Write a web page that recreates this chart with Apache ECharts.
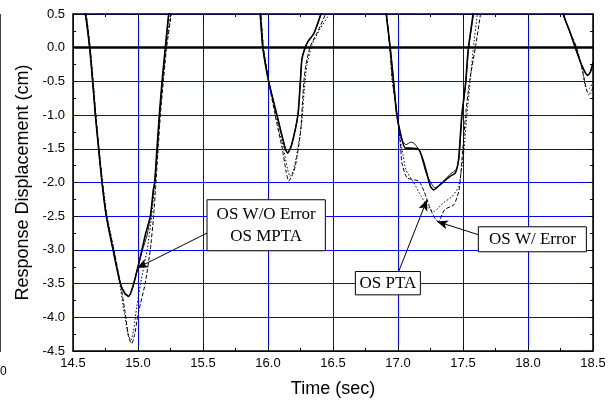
<!DOCTYPE html>
<html><head><meta charset="utf-8">
<script src="https://cdn.jsdelivr.net/npm/echarts@6/dist/echarts.min.js"></script>
<style>html,body{margin:0;padding:0;background:#fff}#c{width:615px;height:404px}</style>
</head><body><div id="c"></div>
<script>
// Axis settings
const xTicks = [14.5, 15.0, 15.5, 16.0, 16.5, 17.0, 17.5, 18.0, 18.5];
const yTicks = [0.5, 0.0, -0.5, -1.0, -1.5, -2.0, -2.5, -3.0, -3.5, -4.0, -4.5];

// OS W/O Error (solid) [time, displacement]
const osWithoutError = [[14.50,1.40],[14.595,0.50],[14.628,0.0],[14.651,-0.5],[14.672,-1.0],[14.697,-1.5],[14.723,-2.0],[14.756,-2.5],[14.808,-3.0],[14.864,-3.5],[14.90,-3.65],[14.928,-3.69],[14.96,-3.55],[15.0,-3.25],[15.03,-3.0],[15.06,-2.75],[15.095,-2.5],[15.118,-2.11],[15.128,-2.0],[15.146,-1.5],[15.164,-1.0],[15.185,-0.5],[15.21,0.0],[15.236,0.5],[15.30,1.4],[15.6,2.2],[15.90,1.3],[15.94,0.5],[15.96,0.0],[16.005,-0.5],[16.069,-1.0],[16.133,-1.5],[16.15,-1.56],[16.18,-1.45],[16.23,-1.0],[16.25,-0.47],[16.26,-0.18],[16.28,-0.03],[16.31,0.10],[16.35,0.20],[16.375,0.32],[16.405,0.49],[16.45,0.8],[16.65,1.6],[16.88,1.0],[16.91,0.49],[16.94,0.0],[16.966,-0.5],[16.99,-0.99],[17.03,-1.36],[17.056,-1.49],[17.09,-1.49],[17.16,-1.51],[17.20,-1.71],[17.25,-2.06],[17.275,-2.11],[17.325,-2.03],[17.40,-1.91],[17.44,-1.86],[17.466,-1.66],[17.49,-1.02],[17.52,-0.52],[17.54,-0.03],[17.577,0.49],[17.62,1.1],[17.95,1.8],[18.25,0.9],[18.274,0.49],[18.325,0.22],[18.364,0.0],[18.415,-0.27],[18.459,-0.41],[18.48,-0.36],[18.5,-0.22]];

// OS MPTA (thin solid)
const osMPTA = [[14.50,1.40],[14.595,0.50],[14.628,0.0],[14.651,-0.5],[14.672,-1.0],[14.697,-1.5],[14.723,-2.0],[14.756,-2.5],[14.808,-3.0],[14.864,-3.5],[14.90,-3.64],[14.93,-3.68],[14.96,-3.54],[15.0,-3.25],[15.035,-3.0],[15.07,-2.78],[15.10,-2.45],[15.12,-2.1],[15.13,-2.0],[15.148,-1.5],[15.166,-1.0],[15.187,-0.5],[15.212,0.0],[15.238,0.5],[15.30,1.4],[15.6,2.2],[15.90,1.3],[15.94,0.5],[15.96,0.0],[16.005,-0.5],[16.069,-1.0],[16.133,-1.5],[16.152,-1.57],[16.18,-1.46],[16.23,-1.0],[16.25,-0.47],[16.26,-0.18],[16.28,-0.03],[16.31,0.10],[16.35,0.20],[16.375,0.32],[16.405,0.49],[16.45,0.8],[16.65,1.6],[16.88,1.0],[16.91,0.49],[16.94,0.0],[16.966,-0.5],[16.99,-0.99],[17.03,-1.36],[17.06,-1.44],[17.10,-1.40],[17.13,-1.43],[17.17,-1.55],[17.22,-1.88],[17.285,-2.08],[17.33,-2.02],[17.40,-1.88],[17.45,-1.80],[17.47,-1.62],[17.492,-1.02],[17.522,-0.52],[17.542,-0.03],[17.58,0.49],[17.62,1.1],[17.95,1.8],[18.25,0.9],[18.274,0.49],[18.325,0.22],[18.364,0.0],[18.415,-0.27],[18.459,-0.41],[18.48,-0.36],[18.5,-0.22]];

// OS W/ Error (dashed)
const osWithError = [[14.50,1.40],[14.60,0.50],[14.632,0.0],[14.655,-0.5],[14.676,-1.0],[14.70,-1.5],[14.727,-2.0],[14.76,-2.5],[14.815,-3.0],[14.865,-3.5],[14.902,-3.94],[14.928,-4.30],[14.952,-4.39],[14.975,-4.25],[15.0,-3.96],[15.056,-3.49],[15.095,-2.99],[15.12,-2.5],[15.138,-2.0],[15.155,-1.5],[15.172,-1.0],[15.195,-0.5],[15.22,0.0],[15.256,0.5],[15.32,1.4],[15.6,2.2],[15.90,1.3],[15.945,0.5],[15.965,0.0],[16.005,-0.5],[16.055,-1.0],[16.11,-1.5],[16.14,-1.85],[16.16,-1.98],[16.185,-1.9],[16.21,-1.76],[16.25,-1.26],[16.275,-0.52],[16.29,-0.27],[16.325,0.02],[16.377,0.22],[16.44,0.49],[16.5,0.9],[16.7,1.6],[16.88,1.0],[16.912,0.5],[16.937,0.0],[16.957,-0.5],[16.995,-1.0],[17.02,-1.46],[17.03,-1.71],[17.07,-1.93],[17.16,-1.98],[17.2,-2.13],[17.25,-2.40],[17.29,-2.55],[17.31,-2.58],[17.36,-2.40],[17.43,-2.33],[17.47,-2.11],[17.49,-1.71],[17.52,-1.0],[17.55,-0.5],[17.595,0.0],[17.634,0.49],[17.68,1.1],[17.95,1.8],[18.24,0.9],[18.27,0.49],[18.33,0.2],[18.375,0.0],[18.42,-0.35],[18.466,-0.70],[18.485,-0.66],[18.5,-0.58]];

// OS PTA (dotted)
const osPTA = [[14.50,1.40],[14.60,0.50],[14.632,0.0],[14.655,-0.5],[14.676,-1.0],[14.70,-1.5],[14.727,-2.0],[14.762,-2.5],[14.815,-3.0],[14.86,-3.5],[14.895,-3.95],[14.925,-4.25],[14.945,-4.34],[14.965,-4.2],[14.99,-3.85],[15.02,-3.5],[15.07,-3.0],[15.105,-2.5],[15.13,-2.0],[15.15,-1.5],[15.168,-1.0],[15.19,-0.5],[15.215,0.0],[15.25,0.5],[15.32,1.4],[15.6,2.2],[15.90,1.3],[15.945,0.5],[15.965,0.0],[16.008,-0.5],[16.06,-1.0],[16.12,-1.5],[16.15,-1.8],[16.17,-1.91],[16.195,-1.82],[16.22,-1.6],[16.26,-1.1],[16.28,-0.6],[16.30,-0.25],[16.34,0.05],[16.40,0.28],[16.466,0.49],[16.52,0.9],[16.7,1.6],[16.88,1.0],[16.912,0.5],[16.937,0.0],[16.957,-0.5],[16.995,-1.0],[17.02,-1.4],[17.04,-1.6],[17.06,-1.81],[17.12,-2.0],[17.18,-2.21],[17.235,-2.38],[17.275,-2.43],[17.35,-2.30],[17.415,-2.21],[17.466,-2.06],[17.505,-1.56],[17.53,-1.0],[17.555,-0.5],[17.58,0.0],[17.61,0.49],[17.66,1.1],[17.95,1.8],[18.25,0.9],[18.275,0.49],[18.33,0.2],[18.37,0.0],[18.415,-0.3],[18.45,-0.62],[18.475,-0.6],[18.5,-0.5]];

// Annotation boxes (data coords of corners) and arrows (from -> to)
const boxTexts = ['OS W/O Error\nOS MPTA', 'OS W/ Error', 'OS PTA'];
const boxCorners = [[[15.531,-2.256],[16.441,-3.013]], [[17.618,-2.657],[18.449,-3.028]], [[16.672,-3.321],[17.172,-3.667]]];
const arrowFrom = [[15.531,-2.75],[17.618,-2.775],[17.005,-3.321]];
const arrowTo = [[14.992,-3.27],[17.30,-2.578],[17.223,-2.256]];

const chart = echarts.init(document.getElementById('c'), null, {renderer:'canvas'});
const sans = 'Liberation Sans, Arial, sans-serif';
const serif = 'Liberation Serif, Times New Roman, serif';

const axisCommon = {
  type:'value',
  axisLine:{show:true, onZero:false, lineStyle:{color:'#000', width:1.5}},
  axisTick:{show:true, inside:true, length:5, lineStyle:{color:'#000', width:1}},
  minorTick:{show:true, splitNumber:2, length:3, lineStyle:{color:'#000', width:1}},
};

const arrowLines = arrowFrom.map((f,i)=>[
  {coord:f, symbol:'none'},
  {coord:arrowTo[i], symbol:'arrow', symbolSize:[7,11]}
]);

chart.setOption({
  animation:false,
  grid:{left:73, right:22, top:14, bottom:53, containLabel:false},
  xAxis:[
    Object.assign({}, axisCommon, {
      min:xTicks[0], max:xTicks[xTicks.length-1], interval:0.5, position:'bottom',
      name:'Time (sec)', nameLocation:'middle', nameGap:29,
      nameTextStyle:{fontFamily:sans, fontSize:18, color:'#000'},
      axisLabel:{fontFamily:sans, fontSize:13, color:'#000', margin:6, formatter:v=>v.toFixed(1)},
      splitLine:{show:true, lineStyle:{color:'#0000ff', width:1}}
    }),
    Object.assign({}, axisCommon, {
      min:xTicks[0], max:xTicks[xTicks.length-1], interval:0.5, position:'top',
      axisLabel:{show:false}, splitLine:{show:false}
    })
  ],
  yAxis:[
    Object.assign({}, axisCommon, {
      min:yTicks[yTicks.length-1], max:yTicks[0], interval:0.5, position:'left',
      name:'Response Displacement (cm)', nameLocation:'middle', nameGap:40,
      nameTextStyle:{fontFamily:sans, fontSize:18, color:'#000'},
      axisLabel:{fontFamily:sans, fontSize:13, color:'#000', margin:8, formatter:v=>v.toFixed(1)},
      splitLine:{show:true, lineStyle:{color:'#0000ff', width:1}}
    }),
    Object.assign({}, axisCommon, {
      min:yTicks[yTicks.length-1], max:yTicks[0], interval:0.5, position:'right',
      axisLabel:{show:false}, splitLine:{show:false}
    })
  ],
  series:[
    {name:'OS PTA', type:'line', data:osPTA, showSymbol:false, symbol:'none', smooth:0.2, clip:true,
     lineStyle:{color:'#000', width:1, type:[1.5,2]}},
    {name:'OS W/ Error', type:'line', data:osWithError, showSymbol:false, symbol:'none', smooth:0.2, clip:true,
     lineStyle:{color:'#000', width:1, type:[4,2]}},
    {name:'OS MPTA', type:'line', data:osMPTA, showSymbol:false, symbol:'none', smooth:0.2, clip:true,
     lineStyle:{color:'#000', width:0.9}},
    {name:'OS W/O Error', type:'line', data:osWithoutError, showSymbol:false, symbol:'none', smooth:0.2, clip:true,
     lineStyle:{color:'#000', width:1.6},
     markLine:{silent:true, animation:false, label:{show:false},
       data:[[{coord:[xTicks[0],0], symbol:'none', lineStyle:{width:2.5, color:'#000', type:'solid'}},
              {coord:[xTicks[xTicks.length-1],0], symbol:'none'}]].concat(arrowLines),
       lineStyle:{color:'#000', width:1, type:'solid'}}}
  ]
});

function drawBoxes(){
  const g = [];
  boxCorners.forEach((c,i)=>{
    const p0 = chart.convertToPixel({gridIndex:0}, c[0]);
    const p1 = chart.convertToPixel({gridIndex:0}, c[1]);
    g.push({type:'rect', z:100, shape:{x:p0[0], y:p0[1], width:p1[0]-p0[0], height:p1[1]-p0[1]},
      style:{fill:'#fff', stroke:'#000', lineWidth:1}});
    g.push({type:'text', z:101, x:(p0[0]+p1[0])/2, y:(p0[1]+p1[1])/2,
      style:{text:boxTexts[i], fontFamily:serif, fontSize:17, fill:'#000', align:'center', verticalAlign:'middle', lineHeight:22}});
  });
  // fragment of neighbouring panel at the left edge
  g.push({type:'line', shape:{x1:0.5, y1:14, x2:0.5, y2:352}, style:{stroke:'#444', lineWidth:1}});
  g.push({type:'text', x:0, y:366, style:{text:'0', fontFamily:sans, fontSize:12, fill:'#000'}});
  chart.setOption({graphic:g});
}
drawBoxes();
</script></body></html>
